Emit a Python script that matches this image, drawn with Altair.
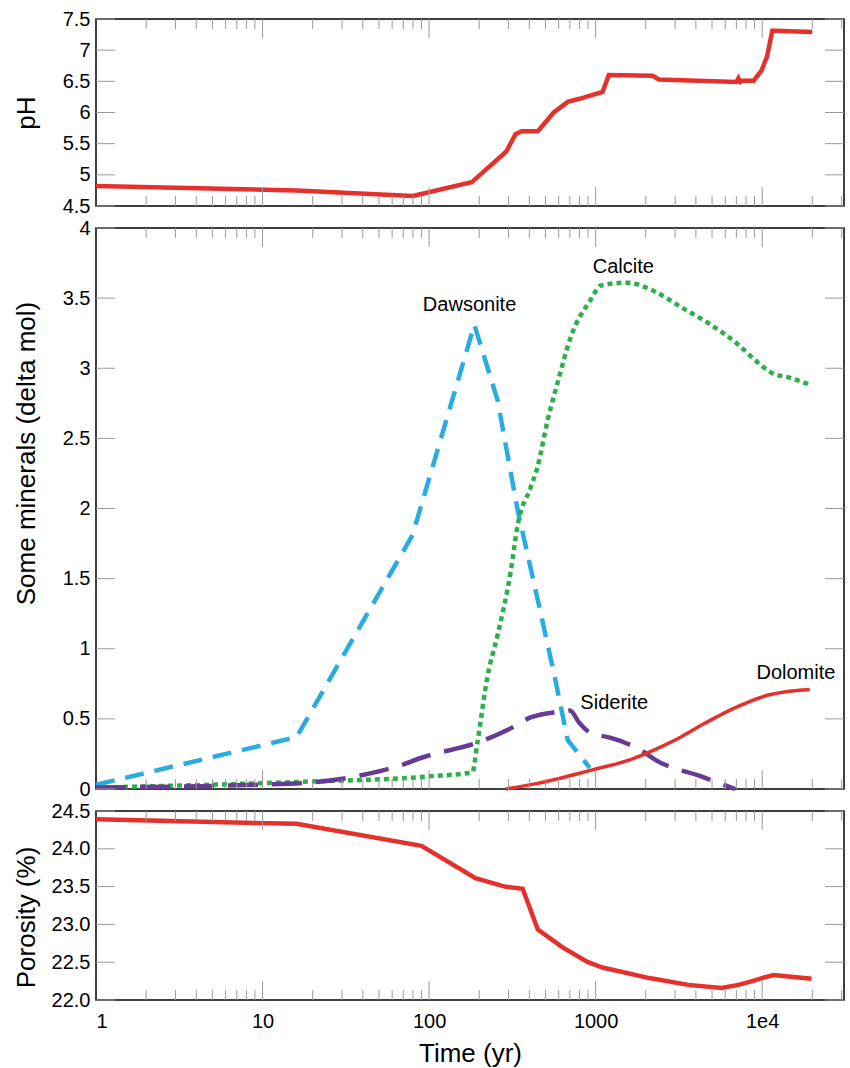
import altair as alt
import pandas as pd

# ---------------- data ----------------
ph_t = [1, 16, 80, 180, 290, 330, 360, 450, 560, 680, 800, 1100, 1200, 2200, 2400,
        7000, 7200, 7400, 7600, 8900, 9900, 10700, 11500, 12000, 20000]
ph_v = [4.82, 4.75, 4.66, 4.88, 5.37, 5.65, 5.70, 5.70, 6.00, 6.17, 6.22, 6.33, 6.60, 6.59, 6.53,
        6.49, 6.55, 6.49, 6.51, 6.51, 6.67, 6.90, 7.31, 7.31, 7.29]

daw_t = [1, 16, 79.5, 187, 258, 340, 449, 568, 679, 922]
daw_v = [0.03, 0.37, 1.81, 3.31, 2.77, 1.99, 1.35, 0.80, 0.35, 0.15]

cal_t = [1, 16, 100, 182, 195, 224, 258, 309, 340, 407, 449, 515, 592, 708, 935, 1074,
         1560, 2057, 3433, 4925, 7155, 9436, 11290, 14900, 19650]
cal_v = [0.01, 0.05, 0.09, 0.12, 0.33, 0.80, 1.10, 1.55, 1.88, 2.15, 2.30, 2.63, 2.90, 3.22,
         3.49, 3.59, 3.61, 3.57, 3.42, 3.31, 3.17, 3.04, 2.97, 2.93, 2.88]

sid_t = [1, 16, 40, 64, 94, 195, 295, 407, 592, 700, 800, 930, 1180, 1500, 1970, 2270, 4300, 6890]
sid_v = [0.01, 0.04, 0.10, 0.16, 0.23, 0.33, 0.42, 0.51, 0.55, 0.56, 0.47, 0.40, 0.37, 0.33,
         0.26, 0.21, 0.09, 0.0]

dol_t = [288, 449, 983, 1620, 2360, 3130, 4550, 6900, 10900, 19300]
dol_v = [0.0, 0.04, 0.14, 0.21, 0.29, 0.36, 0.47, 0.58, 0.67, 0.71]

por_t = [1, 16, 90, 190, 285, 365, 450, 640, 900, 1100, 2100, 3600, 5700, 7200, 8400,
         10000, 11700, 19800]
por_v = [24.39, 24.33, 24.04, 23.61, 23.50, 23.47, 22.93, 22.69, 22.50, 22.43, 22.29, 22.20,
         22.16, 22.20, 22.24, 22.29, 22.33, 22.28]

mineral_names = ["Dawsonite", "Calcite", "Siderite", "Dolomite"]
label_t = [175, 1465, 1294, 15950]
label_v = [3.45, 3.72, 0.61, 0.83]

x_major = [1, 10, 100, 1000, 10000]
x_major_labels = ["1", "10", "100", "1000", "1e4"]
ph_ticks = [4.5, 5, 5.5, 6, 6.5, 7, 7.5]
min_ticks = [0, 0.5, 1, 1.5, 2, 2.5, 3, 3.5, 4]
por_ticks = [22.0, 22.5, 23.0, 23.5, 24.0, 24.5]

# ---------------- layout / style ----------------
W = 748
H_TOP, H_MID, H_BOT = 187, 561, 189
XMAX = 31000
RED = "#E4312B"
BLUE = "#2AACE2"
GREEN = "#2DB04B"
PURPLE = "#673A95"
TICK = "#9a9a9a"
FONT = "Liberation Sans"
TITLE_SIZE = 26

x_minor = [m * 10 ** e for e in range(5) for m in range(2, 10) if m * 10 ** e <= XMAX]
xscale = alt.Scale(type="log", domain=[1, XMAX], nice=False)


def yaxis(title, vals, fmt, ty):
    return alt.Axis(values=vals, format=fmt, ticks=False, domain=False, grid=False,
                    labelPadding=6, labelFontSize=20, labelColor="black", labelFont=FONT,
                    title=title, titleFontSize=TITLE_SIZE, titleFontWeight="normal", titleFont=FONT,
                    titleColor="black", titleAngle=270, titleX=-70, titleY=ty,
                    titleAlign="center", titleBaseline="middle")


label_expr = " : ".join(
    [f"datum.value == {v} ? '{s}'" for v, s in zip(x_major, x_major_labels)]) + " : ''"
x_bottom_axis = alt.Axis(values=x_major, labelExpr=label_expr, ticks=False, domain=False,
                         grid=False, labelPadding=11, labelFontSize=20, labelColor="black",
                         labelFont=FONT, title="Time (yr)", titleFontSize=TITLE_SIZE,
                         titleFontWeight="normal", titleFont=FONT, titleColor="black",
                         titlePadding=9)


def make_panel(h, ydomain, yax, xax, series, yvals, extra=None):
    yscale = alt.Scale(domain=ydomain, nice=False)

    def enc_x(field="t"):
        return alt.X(f"{field}:Q", scale=xscale, axis=xax)

    def enc_y(field="v"):
        return alt.Y(f"{field}:Q", scale=yscale, axis=yax)

    layers = []
    for t, v, mk in series:
        d = pd.DataFrame({"t": t, "v": v})
        layers.append(alt.Chart(d).mark_line(**mk).encode(x=enc_x(), y=enc_y()))
    if extra is not None:
        d, textfield = extra
        layers.append(alt.Chart(d).mark_text(fontSize=20, font=FONT, color="black").encode(
            x=enc_x(), y=enc_y(), text=f"{textfield}:N"))
    # inward ticks on the x edges (top and bottom)
    for vals, L in [(x_major[1:], 19), (x_minor, 10)]:
        d = pd.DataFrame({"t": vals})
        base = alt.Chart(d).mark_rule(color=TICK, strokeWidth=1)
        layers.append(base.encode(x=enc_x(), y=alt.value(h), y2=alt.value(h - L)))
        layers.append(base.encode(x=enc_x(), y=alt.value(0), y2=alt.value(L)))
    # inward ticks on the y edges (left and right)
    d = pd.DataFrame({"v": yvals})
    base = alt.Chart(d).mark_rule(color=TICK, strokeWidth=1)
    layers.append(base.encode(y=enc_y(), x=alt.value(0), x2=alt.value(19)))
    layers.append(base.encode(y=enc_y(), x=alt.value(W), x2=alt.value(W - 19)))
    return alt.layer(*layers).properties(width=W, height=h)


top = make_panel(H_TOP, [4.5, 7.5], yaxis("pH", ph_ticks, "~g", H_TOP / 2), None,
                 [(ph_t, ph_v, dict(color=RED, strokeWidth=4.5))], ph_ticks)

lab_df = pd.DataFrame({"t": label_t, "v": label_v, "name": mineral_names})
mid = make_panel(
    H_MID, [0, 4], yaxis("Some minerals (delta mol)", min_ticks, "~g", 225), None,
    [
        (daw_t, daw_v, dict(color=BLUE, strokeWidth=4.5, strokeDash=[19, 11])),
        (cal_t, cal_v, dict(color=GREEN, strokeWidth=4.5, strokeDash=[5, 4], interpolate="monotone")),
        (sid_t, sid_v, dict(color=PURPLE, strokeWidth=4.5, strokeDash=[30, 14], interpolate="monotone")),
        (dol_t, dol_v, dict(color=RED, strokeWidth=3.5, interpolate="monotone")),
    ],
    min_ticks, extra=(lab_df, "name"))

bot = make_panel(H_BOT, [22.0, 24.5], yaxis("Porosity (%)", por_ticks, ".1f", 106), x_bottom_axis,
                 [(por_t, por_v, dict(color=RED, strokeWidth=4.5))], por_ticks)

chart = alt.vconcat(top, mid, bot, spacing=22, bounds="flush").properties(
    padding={"left": 12, "top": 8, "right": 2, "bottom": 2},
    autosize=alt.AutoSizeParams(type="pad"),
).configure(background="white").configure_view(stroke="black", strokeWidth=1.5)

chart.save("out.html", embed_options={"renderer": "svg", "actions": False})
